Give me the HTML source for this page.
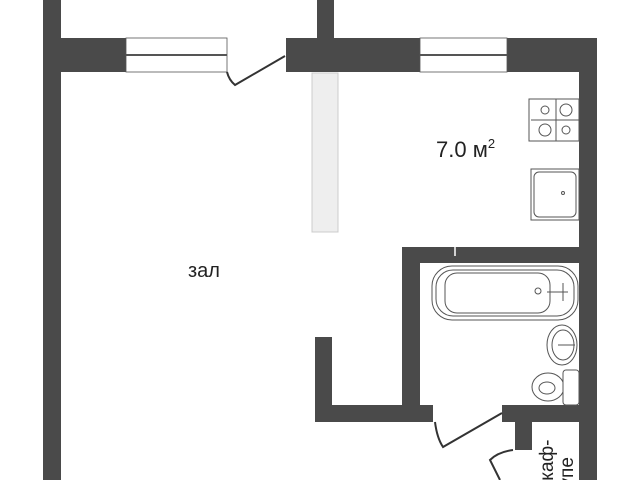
<!DOCTYPE html>
<html><head><meta charset="utf-8"><style>
html,body{margin:0;padding:0;background:#fff;width:640px;height:480px;overflow:hidden}
</style></head><body>
<svg width="640" height="480" viewBox="0 0 640 480" xmlns="http://www.w3.org/2000/svg">
<g fill="#4a4a4a">
<rect x="43" y="0" width="18" height="480"/>
<rect x="43" y="38" width="83" height="34"/>
<rect x="286" y="38" width="134" height="34"/>
<rect x="507" y="38" width="90" height="34"/>
<rect x="317" y="0" width="17" height="40"/>
<rect x="579" y="38" width="18" height="442"/>
<rect x="402" y="247" width="195" height="16"/>
<rect x="402" y="247" width="18" height="175"/>
<rect x="315" y="405" width="118" height="17"/>
<rect x="315" y="337" width="17" height="85"/>
<rect x="502" y="405" width="95" height="17"/>
<rect x="515" y="405" width="17" height="45"/>
</g>
<g fill="#fff" stroke="#555" stroke-width="0.8">
<rect x="126" y="38" width="101" height="34"/>
<rect x="420" y="38" width="87" height="34"/>
</g>
<line x1="126" y1="55" x2="227" y2="55" stroke="#555" stroke-width="2"/>
<line x1="420" y1="55" x2="507" y2="55" stroke="#555" stroke-width="2"/>
<path d="M227 72 Q229 80 235 85 L285 56" fill="none" stroke="#333" stroke-width="2"/>
<rect x="312" y="73" width="26" height="159" fill="#eee" stroke="#ccc"/>
<g fill="#fff" stroke="#555" stroke-width="1">
<rect x="529" y="99" width="50" height="42"/>
<line x1="556" y1="99" x2="556" y2="141"/><line x1="531" y1="120" x2="579" y2="120"/>
<circle cx="545" cy="110" r="4"/><circle cx="566" cy="110" r="6"/><circle cx="545" cy="130" r="6"/><circle cx="566" cy="130" r="4"/>
<rect x="531" y="169" width="48" height="51"/>
<rect x="534" y="172" width="42" height="45" rx="5"/>
<circle cx="563" cy="193" r="1.5"/>
<rect x="432" y="266" width="146" height="54" rx="20"/>
<rect x="436" y="270" width="138" height="46" rx="17"/>
<rect x="445" y="273" width="105" height="40" rx="12"/>
<circle cx="538" cy="291" r="3"/>
<line x1="547" y1="292" x2="568" y2="292"/><line x1="563" y1="283" x2="563" y2="301"/>
<ellipse cx="562" cy="345" rx="15" ry="20"/>
<ellipse cx="563" cy="345" rx="11" ry="15"/>
<line x1="558" y1="345" x2="575" y2="345"/>
<ellipse cx="548" cy="387" rx="16" ry="14"/>
<ellipse cx="547" cy="388" rx="8" ry="6"/>
<rect x="563" y="370" width="16" height="35" rx="3"/>
</g>
<line x1="455" y1="247" x2="455" y2="256" stroke="#fff" stroke-width="1.5"/>
<path d="M435 422 Q437 438 443 447 L502 413" fill="none" stroke="#333" stroke-width="2"/>
<path d="M513 450 Q498 452 490 460 L500 480" fill="none" stroke="#333" stroke-width="2"/>
<text x="436" y="157" font-family="Liberation Sans Narrow, Liberation Sans, sans-serif" font-size="22" fill="#222">7.0 м<tspan font-size="13" dy="-9">2</tspan></text>
<text x="188" y="277" font-family="Liberation Sans, sans-serif" font-size="20" fill="#222">зал</text>
<text transform="translate(553,496) rotate(-90)" font-family="Liberation Sans, sans-serif" font-size="19" fill="#222">шкаф-</text>
<text transform="translate(573,496) rotate(-90)" font-family="Liberation Sans, sans-serif" font-size="19" fill="#222">купе</text>
</svg>
</body></html>
